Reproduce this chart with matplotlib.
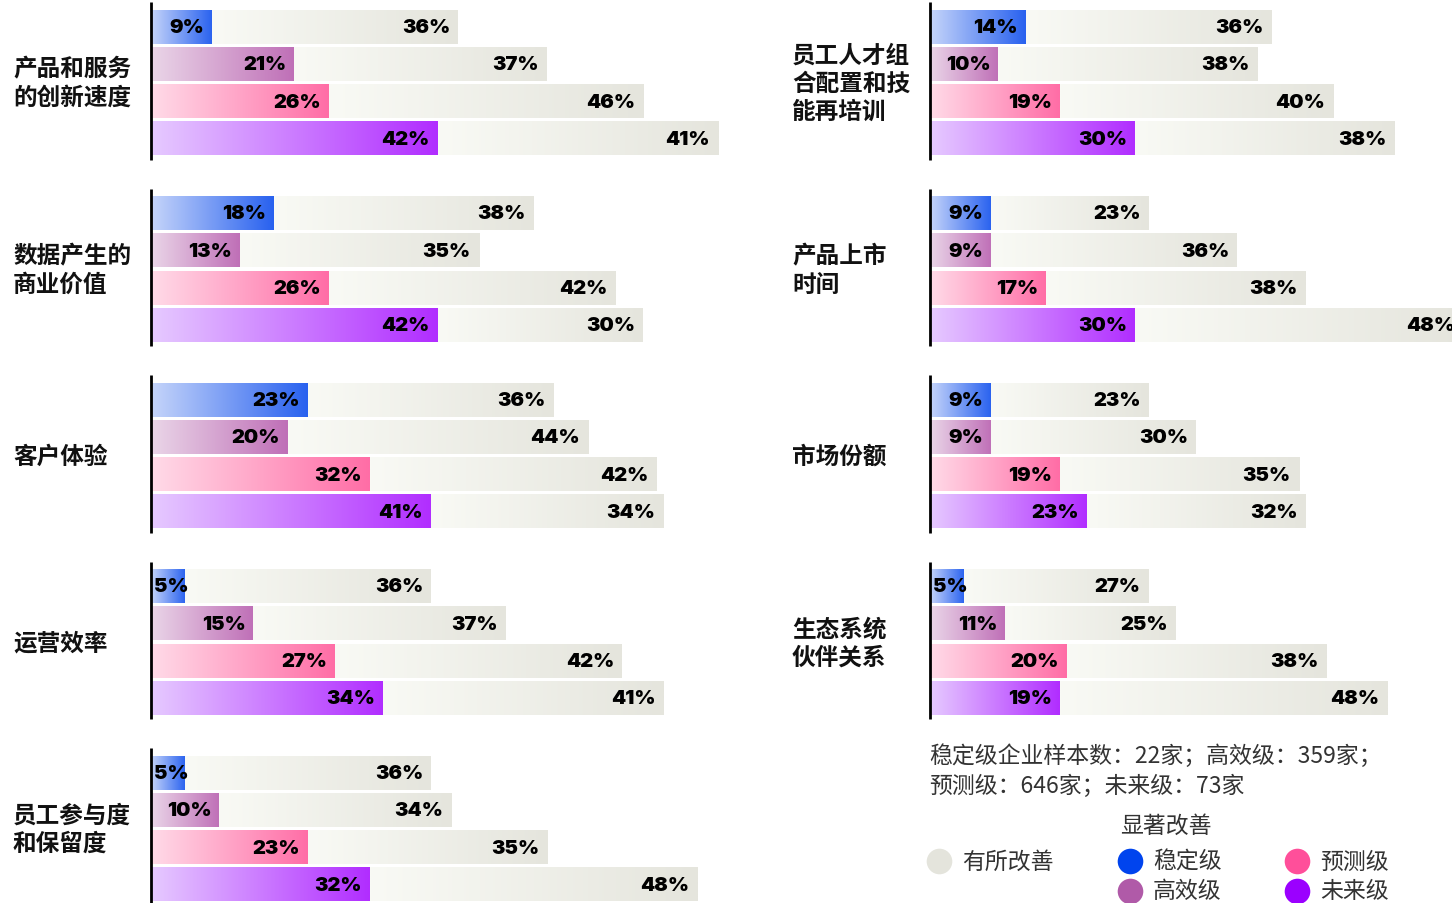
import numpy as np
import matplotlib
matplotlib.use("Agg")
import matplotlib.pyplot as plt
from matplotlib.colors import LinearSegmentedColormap

plt.rcParams['font.family'] = ['Noto Sans CJK SC', 'DejaVu Sans']

# ---- data ----
left_cats = ["产品和服务\n的创新速度", "数据产生的\n商业价值", "客户体验", "运营效率", "员工参与度\n和保留度"]
left_sig = [[9, 21, 26, 42], [18, 13, 26, 42], [23, 20, 32, 41], [5, 15, 27, 34], [5, 10, 23, 32]]
left_some = [[36, 37, 46, 41], [38, 35, 42, 30], [36, 44, 42, 34], [36, 37, 42, 41], [36, 34, 35, 48]]

right_cats = ["员工人才组\n合配置和技\n能再培训", "产品上市\n时间", "市场份额", "生态系统\n伙伴关系"]
right_sig = [[14, 10, 19, 30], [9, 9, 17, 30], [9, 9, 19, 23], [5, 11, 20, 19]]
right_some = [[36, 38, 40, 38], [23, 36, 38, 48], [23, 30, 35, 32], [27, 25, 38, 48]]

levels = ["稳定级", "高效级", "预测级", "未来级"]
level_colors = ["#0044ee", "#b05aa8", "#ff4f9a", "#9b00ff"]
grey = "#e4e4dc"

# gradient start/end per level (light -> strong)
grad = [("#c6d5fa", "#2861ef"), ("#ead6e8", "#bf6fb7"), ("#ffdbe8", "#ff6da6"), ("#e6caff", "#b12dff")]
grey_grad = ("#f9faf5", "#e5e5dd")

note = "稳定级企业样本数：22家；高效级：359家；\n预测级：646家；未来级：73家"

W, H = 1452, 904
PX_PER_PCT = 6.83
STEP = 37.3      # px per bar row
TOP = 28         # px, centre of first bar
BAR_H = 0.885

fig = plt.figure(figsize=(W / 100, H / 100), dpi=100)

ramp = np.linspace(0, 1, 256).reshape(1, -1)
num_font = dict(family="Inter", fontweight=900, fontsize=14.5)


def grad_bar(ax, x0, x1, y, c0, c1):
    cmap = LinearSegmentedColormap.from_list("g", [c0, c1])
    ax.imshow(ramp, cmap=cmap, aspect="auto", interpolation="bilinear",
              extent=[x0, x1, y + BAR_H / 2, y - BAR_H / 2], zorder=2)


def draw_column(x_left_px, cats, sig, some, label_x_px):
    width_px = W - x_left_px
    ax = fig.add_axes([x_left_px / W, 0, width_px / W, 1])
    for g, (s_vals, o_vals) in enumerate(zip(sig, some)):
        base = g * 5
        for i in range(4):
            y = base + i
            s, o = s_vals[i], o_vals[i]
            grad_bar(ax, 0, s, y, *grad[i])
            grad_bar(ax, s, s + o, y, *grey_grad)
            pad = 8 / PX_PER_PCT
            if s * PX_PER_PCT < 45:
                ax.text(3 / PX_PER_PCT, y, f"{s}%", ha="left", va="center",
                        zorder=3, **num_font)
            else:
                ax.text(s - pad, y, f"{s}%", ha="right", va="center",
                        zorder=3, **num_font)
            ax.text(s + o - pad, y, f"{o}%", ha="right", va="center",
                    zorder=3, clip_on=False, **num_font)
        ax.plot([0, 0], [base - 0.66, base + 3.56], color="black", lw=2,
                zorder=4, solid_capstyle="butt", clip_on=False)
        fig.text(label_x_px / W, 1 - (TOP + (base + 1.5) * STEP) / H, cats[g],
                 ha="left", va="center", fontsize=17, fontweight="bold",
                 linespacing=1.22, color="#111111")
    ax.set_xlim(-1 / PX_PER_PCT, (width_px - 1) / PX_PER_PCT)
    ax.set_ylim((H - TOP) / STEP, -TOP / STEP)
    ax.axis("off")
    return ax


draw_column(150, left_cats, left_sig, left_some, 13)
draw_column(929, right_cats, right_sig, right_some, 792)

# ---- legend / note ----
lax = fig.add_axes([0, 0, 1, 1])
lax.set_xlim(0, W)
lax.set_ylim(H, 0)
lax.axis("off")
txt = dict(fontsize=16.5, color="#333333")
lax.text(929, 771, note, ha="left", va="center", linespacing=1.4, **txt)
lax.text(1166, 826, "显著改善", ha="center", va="center", **txt)
lax.scatter([939], [862], s=340, color=grey, zorder=3, linewidths=0)
lax.text(962, 862, "有所改善", ha="left", va="center", **txt)
pos = [(1130, 862), (1130, 892), (1297, 862), (1297, 892)]
for (px, py), name, col in zip(pos, levels, level_colors):
    lax.scatter([px], [py], s=340, color=col, zorder=3, linewidths=0)
    lax.text(px + 23, py, name, ha="left", va="center", **txt)

fig.savefig("out.png", dpi=100)
